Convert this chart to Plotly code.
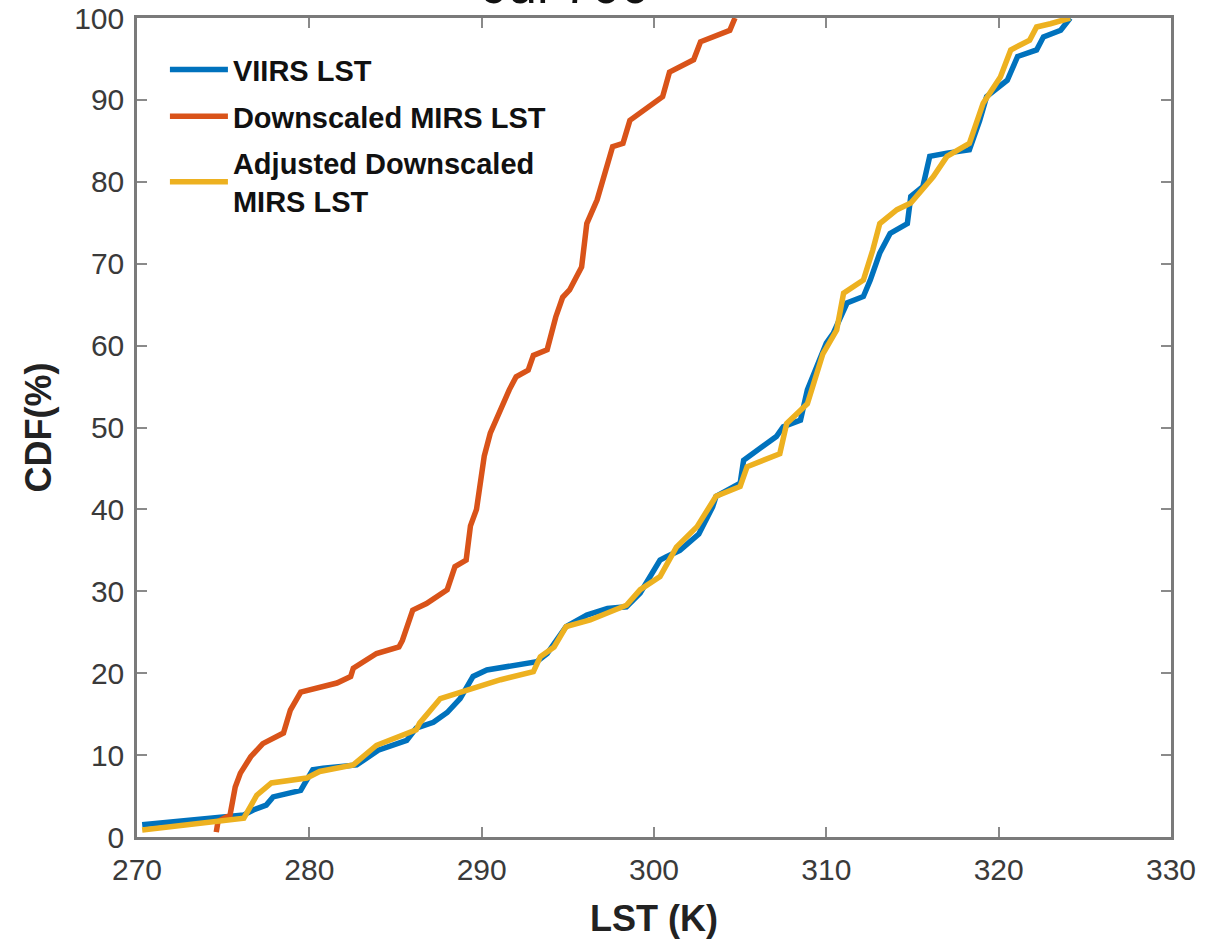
import plotly.graph_objects as go

# ---- data ----
viirs_x = [270.3, 274.8, 276.2, 276.75, 277.5, 277.9, 279.5, 279.75, 280.2, 280.8, 282.75, 284.0,
           285.65, 286.2, 287.2, 288.0, 288.75, 289.5, 290.3, 293.2, 293.8, 294.9, 296.1, 297.3,
           298.4, 299.2, 300.35, 300.7, 301.5, 302.6, 303.4, 303.6, 305.0, 305.2, 307.1, 307.5,
           308.5, 308.9, 309.45, 310.0, 310.4, 311.2, 312.15, 312.55, 313.1, 313.7, 314.7, 314.9,
           315.6, 316.0, 317.0, 318.3, 318.9, 319.3, 320.5, 321.1, 322.2, 322.6, 323.6, 324.15]
viirs_y = [1.5, 2.5, 2.7, 3.3, 3.9, 4.9, 5.7, 6.6, 8.2, 8.4, 8.8, 10.6,
           11.8, 13.3, 14.0, 15.2, 16.9, 19.6, 20.4, 21.4, 22.4, 25.7, 27.1, 27.9,
           28.1, 29.8, 33.8, 34.2, 35.0, 37.0, 40.3, 41.6, 43.2, 46.0, 48.9, 50.1,
           50.9, 54.6, 57.4, 60.3, 61.5, 65.2, 66.0, 68.0, 71.3, 73.7, 74.9, 78.2,
           79.4, 83.1, 83.5, 83.9, 87.5, 90.4, 92.4, 95.3, 96.1, 97.7, 98.5, 100.0]

down_x = [274.6, 274.7, 275.4, 275.7, 276.0, 276.6, 277.3, 278.5, 278.9, 279.5, 281.6, 282.4,
          282.55, 283.9, 285.2, 285.4, 286.0, 286.8, 288.0, 288.45, 289.1, 289.35, 289.7, 289.9,
          290.15, 290.5, 290.9, 291.2, 291.6, 292.0, 292.7, 293.0, 293.8, 294.3, 294.7, 295.1,
          295.8, 296.1, 296.7, 297.2, 297.6, 298.2, 298.6, 300.5, 300.9, 302.3, 302.7, 304.4, 304.7]
down_y = [0.6, 1.9, 2.7, 6.1, 7.8, 9.8, 11.4, 12.7, 15.5, 17.7, 18.8, 19.6,
          20.6, 22.4, 23.2, 24.0, 27.7, 28.5, 30.2, 33.0, 33.8, 38.0, 40.0, 42.8,
          46.5, 49.3, 51.3, 52.7, 54.6, 56.2, 57.0, 58.8, 59.5, 63.5, 65.9, 66.8,
          69.6, 74.9, 77.8, 81.4, 84.3, 84.7, 87.5, 90.4, 93.4, 94.9, 97.1, 98.5, 100.0]

adj_x = [270.3, 274.6, 276.2, 276.95, 277.8, 279.85, 280.6, 282.55, 283.9, 286.2, 286.4, 287.6,
         289.1, 291.1, 293.0, 293.4, 294.2, 294.9, 296.3, 298.4, 299.2, 300.35, 301.3, 302.5,
         303.6, 305.0, 305.4, 307.3, 307.7, 308.9, 309.8, 310.6, 311.0, 312.15, 312.7, 313.1,
         314.1, 314.9, 316.2, 317.0, 318.3, 319.1, 320.1, 320.7, 321.8, 322.2, 323.0, 324.15]
adj_y = [0.85, 1.9, 2.3, 5.1, 6.6, 7.2, 8.0, 8.8, 11.2, 13.1, 13.9, 16.9,
         17.9, 19.2, 20.2, 22.0, 23.2, 25.7, 26.5, 28.3, 30.2, 31.8, 35.4, 37.9,
         41.6, 42.8, 45.2, 46.8, 50.5, 52.9, 59.0, 61.9, 66.4, 68.0, 71.7, 74.9,
         76.6, 77.4, 80.6, 83.1, 84.7, 89.6, 92.8, 96.1, 97.3, 98.9, 99.3, 100.0]

x_ticks = [270, 280, 290, 300, 310, 320, 330]
y_ticks = [0, 10, 20, 30, 40, 50, 60, 70, 80, 90, 100]

names = ["VIIRS LST", "Downscaled MIRS LST", "Adjusted Downscaled<br>MIRS LST"]
colors = ["#0072BD", "#D95319", "#EDB120"]
title_text = "Jul 700"

FONT = "Liberation Sans, Arial, sans-serif"

fig = go.Figure()
for i, (xs, ys, nm, c) in enumerate([(viirs_x, viirs_y, names[0], colors[0]),
                                     (down_x, down_y, names[1], colors[1]),
                                     (adj_x, adj_y, names[2], colors[2])]):
    fig.add_trace(go.Scatter(x=xs, y=ys, mode="lines", name=nm, legendgroup="g%d" % i,
                             line=dict(color=c, width=5.5), cliponaxis=False))

axis_common = dict(
    showgrid=False, zeroline=False, showline=True, linecolor="#7a7a7a", linewidth=2.5,
    mirror="ticks", ticks="inside", ticklen=10, tickwidth=2, tickcolor="#8a8a8a",
    automargin=False,
    tickfont=dict(family=FONT, size=30, color="#3a3a3a"),
)

fig.update_xaxes(range=[270, 330], tickvals=x_ticks, ticktext=[str(v) for v in x_ticks],
                 ticklabelstandoff=4,
                 title=dict(text="LST (K)", standoff=22,
                            font=dict(family=FONT, size=36, color="#222222", weight="bold")),
                 **axis_common)
fig.update_yaxes(range=[0, 100], tickvals=y_ticks, ticktext=[str(v) for v in y_ticks],
                 ticklabelstandoff=4,
                 title=dict(text="CDF(%)", standoff=12,
                            font=dict(family=FONT, size=36, color="#222222", weight="bold")),
                 **axis_common)

fig.update_layout(
    width=1210, height=940,
    margin=dict(l=137, r=39, t=18, b=103, autoexpand=False),
    paper_bgcolor="white", plot_bgcolor="white",
    showlegend=True,
    legend=dict(x=0.027, y=0.968, xanchor="left", yanchor="top",
                bgcolor="rgba(255,255,255,0)", borderwidth=0,
                font=dict(family=FONT, size=29, color="#111111", weight="bold"),
                itemwidth=58, tracegroupgap=6),
    annotations=[dict(text=title_text, xref="paper", yref="paper", x=0.415, y=1.0,
                      xanchor="center", yanchor="bottom", yshift=2, showarrow=False,
                      font=dict(family=FONT, size=52, color="#111111"))],
)

fig.write_html("out.html")
